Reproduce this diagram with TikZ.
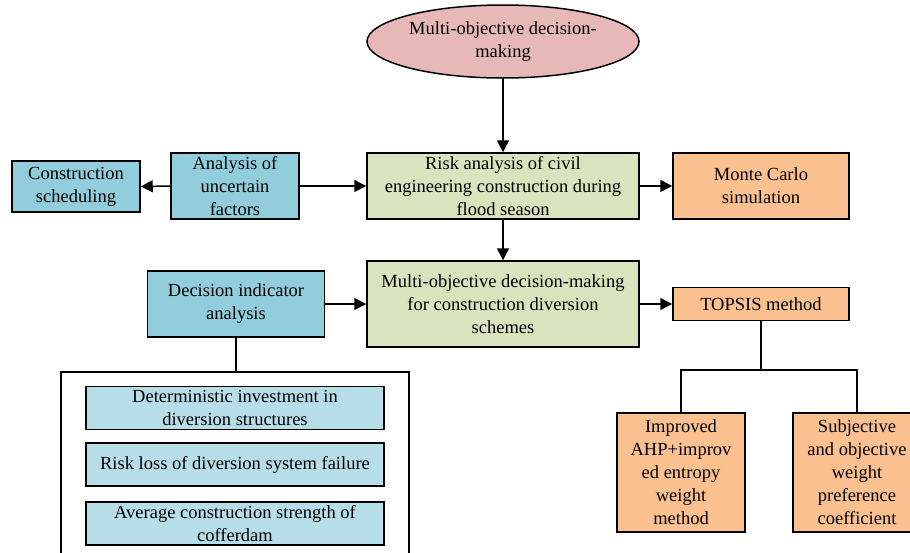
\documentclass[tikz,border=0pt]{standalone}
\usepackage{fontspec}
\setmainfont{Liberation Serif}
\usetikzlibrary{arrows.meta,shapes.geometric}

\definecolor{pinkfill}{HTML}{E6B9B8}
\definecolor{greenfill}{HTML}{D7E4BD}
\definecolor{bluefill}{HTML}{92CDDC}
\definecolor{orangefill}{HTML}{FAC090}
\definecolor{paleblue}{HTML}{B7DEE8}

\begin{document}
\begin{tikzpicture}[x=1pt,y=-1pt,
  box/.style={draw=black, line width=1.5pt, inner sep=0pt, align=center,
    font=\fontsize{18.5}{23}\selectfont},
  bluebox/.style={box, fill=bluefill},
  greenbox/.style={box, fill=greenfill},
  orangebox/.style={box, fill=orangefill},
  indbox/.style={box, fill=paleblue, minimum width=298, minimum height=43},
  link/.style={line width=1.5pt},
  arr/.style={link, -{Triangle[length=12pt,width=12pt]}}]

\useasboundingbox (0,0) rectangle (910,552);
\clip (0,0) rectangle (910,552);

% top goal
\node[box, ellipse, fill=pinkfill, minimum width=272, minimum height=73] (goal) at (503,41.5)
  {Multi-objective decision-\\making};

% second row
\node[greenbox, minimum width=272, minimum height=66] (risk) at (503,186)
  {Risk analysis of civil\\engineering construction during\\flood season};
\node[bluebox, minimum width=128, minimum height=66] (unc) at (235,186)
  {Analysis of\\uncertain\\factors};
\node[bluebox, minimum width=128, minimum height=51] (sched) at (76,186.5)
  {Construction\\scheduling};
\node[orangebox, minimum width=176, minimum height=66] (mc) at (761,186)
  {Monte Carlo\\simulation};

% third row
\node[greenbox, minimum width=272, minimum height=86] (mod) at (503,304)
  {Multi-objective decision-making\\for construction diversion\\schemes};
\node[bluebox, minimum width=177, minimum height=66] (dia) at (236,304)
  {Decision indicator\\analysis};
\node[orangebox, minimum width=176, minimum height=33] (topsis) at (761,304)
  {TOPSIS method};

% decision indicators
\node[draw=black, line width=1.5pt, fill=white, minimum width=348, minimum height=190, inner sep=0pt] (group) at (235,467) {};
\node[indbox] (ind1) at (235,408) {Deterministic investment in\\diversion structures};
\node[indbox] (ind2) at (235,464.5) {Risk loss of diversion system failure};
\node[indbox] (ind3) at (235,523.5) {Average construction strength of\\cofferdam};

% weighting methods
\node[orangebox, minimum width=128, minimum height=119] (ahp) at (681,472.5)
  {Improved\\AHP+improv\\ed entropy\\weight\\method};
\node[orangebox, minimum width=128, minimum height=119] (subj) at (857,472.5)
  {Subjective\\and objective\\weight\\preference\\coefficient};

% connectors
\draw[arr] (goal.south) -- (risk.north);
\draw[arr] (unc.east) -- (risk.west);
\draw[arr] (unc.west) -- (sched.east);
\draw[arr] (risk.east) -- (mc.west);
\draw[arr] (risk.south) -- (mod.north);
\draw[arr] (dia.east |- mod.west) -- (mod.west);
\draw[arr] (mod.east |- topsis.west) -- (topsis.west);
\draw[link] (dia.south) -- (dia.south |- group.north);
\coordinate (fork) at (761,370);
\draw[link] (topsis.south) -- (fork);
\draw[link] (fork) -| (ahp.north);
\draw[link] (fork) -| (subj.north);
\end{tikzpicture}
\end{document}
